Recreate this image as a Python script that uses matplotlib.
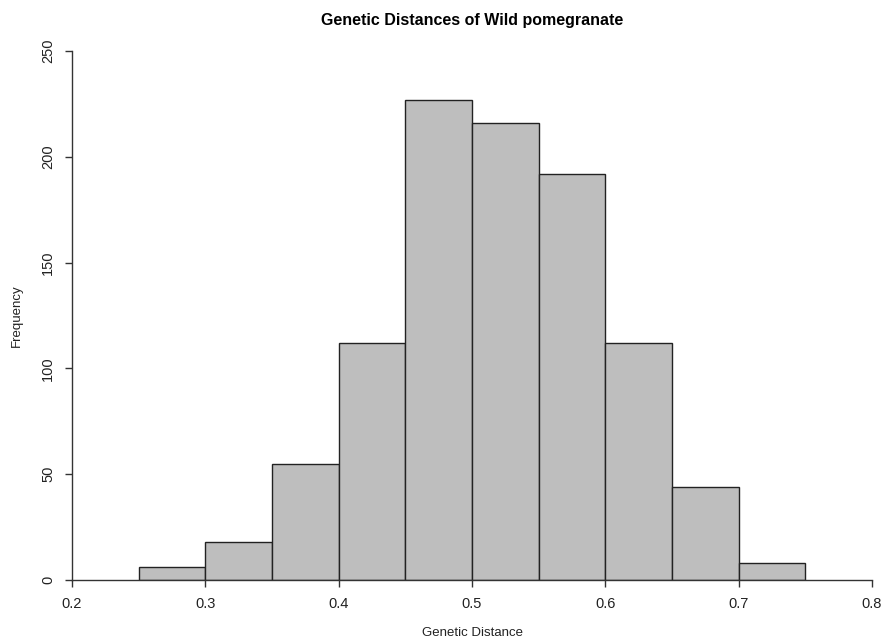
import matplotlib
matplotlib.use("Agg")
import matplotlib.pyplot as plt

# histogram bins (Genetic distance) and counts
bin_edges = [0.25, 0.30, 0.35, 0.40, 0.45, 0.50, 0.55, 0.60, 0.65, 0.70, 0.75]
counts = [6, 18, 55, 112, 227, 216, 192, 112, 44, 8]
x_ticks = [0.2, 0.3, 0.4, 0.5, 0.6, 0.7, 0.8]
y_ticks = [0, 50, 100, 150, 200, 250]

plt.rcParams["font.family"] = ["Liberation Sans", "DejaVu Sans"]

fig = plt.figure(figsize=(8.82, 6.41), dpi=100)
ax = fig.add_axes([0.0816, 0.0952, 0.9071, 0.8252])

widths = [b - a for a, b in zip(bin_edges[:-1], bin_edges[1:])]
ax.bar(bin_edges[:-1], counts, width=widths, align="edge",
       color="#bebebe", edgecolor="#222222", linewidth=1.0)

ax.set_xlim(0.2, 0.8)
ax.set_ylim(0, 250)
ax.set_xticks(x_ticks)
ax.set_xticklabels([f"{t:g}" for t in x_ticks])
ax.set_yticks(y_ticks)
ax.set_yticklabels([str(t) for t in y_ticks], rotation=90, va="center")

for side in ("top", "right"):
    ax.spines[side].set_visible(False)
for side in ("left", "bottom"):
    ax.spines[side].set_color("#333333")
    ax.spines[side].set_linewidth(1.0)

ax.tick_params(axis="both", direction="out", length=5, width=1.0,
               color="#333333", labelsize=10.5, labelcolor="#222222")
ax.tick_params(axis="x", pad=7)
ax.tick_params(axis="y", pad=7)

ax.set_title("Genetic Distances of Wild pomegranate", fontsize=11.5,
             fontweight="bold", pad=19)
ax.set_xlabel("Genetic Distance", fontsize=9.5, labelpad=12, color="#222222")
ax.set_ylabel("Frequency", fontsize=9.5, labelpad=13, color="#222222")

fig.savefig("out.png", dpi=100)
plt.close(fig)
